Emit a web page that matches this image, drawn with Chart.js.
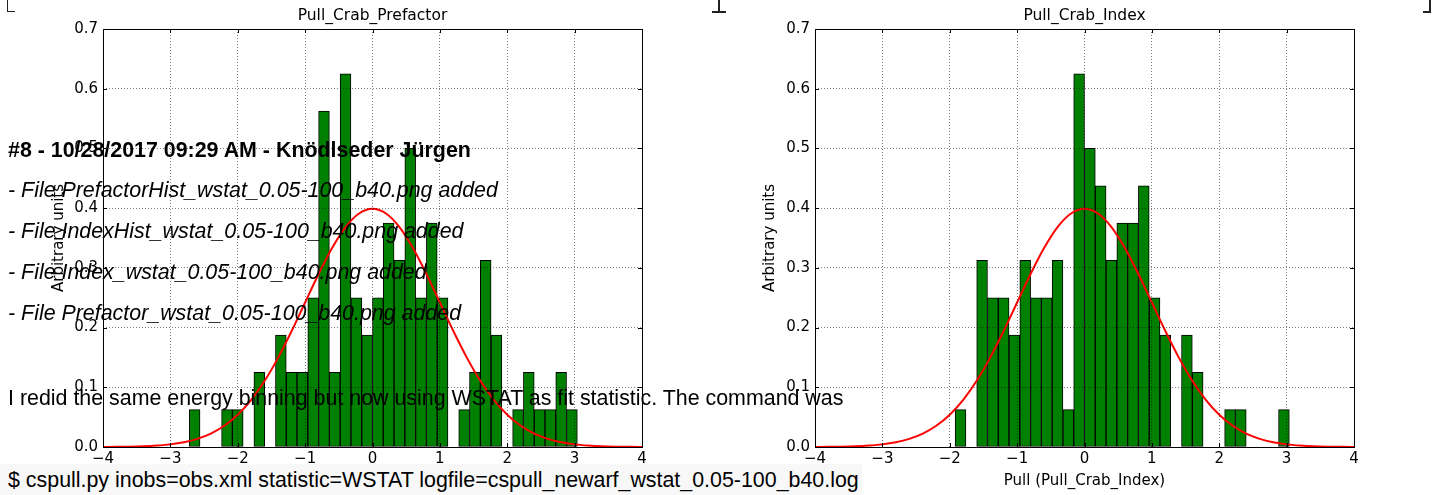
<!DOCTYPE html>
<html lang="en">
<head>
  <meta charset="UTF-8">
  <script src="https://cdn.jsdelivr.net/npm/chart.js"></script>
  <title>Pull histograms</title>
  <style>
    body { margin: 0; background: #fff; width: 1437px; height: 495px; overflow: hidden; position: relative; }
    canvas { position: absolute; top: 0; }
    .txt { position: absolute; left: 8px; white-space: nowrap; font-family: "Liberation Sans", Arial, sans-serif;
           font-size: 21.4px; line-height: 24px; color: #000; }
    .pre { position: absolute; left: 0; top: 464px; width: 862px; height: 31px; background: #f8f8f8; }
    .mark { position: absolute; border-color: #222; border-style: solid; border-width: 0; }
  </style>
</head>
<body>
  <canvas id="chartPrefactor" width="718" height="495" style="left:0"></canvas>
  <canvas id="chartIndex" width="719" height="495" style="left:718px"></canvas>

  <div class="mark" style="left:7px;top:0;width:7px;height:11px;border-left-width:1.5px;border-bottom-width:1.5px"></div>
  <div class="mark" style="left:718px;top:0;width:0;height:11px;border-left-width:2px"></div>
  <div class="mark" style="left:712px;top:11px;width:14px;height:0;border-top-width:2px"></div>
  <div class="mark" style="left:1423px;top:0;width:6px;height:11px;border-right-width:2px;border-bottom-width:2px"></div>

  <div class="txt" style="top:138px;font-weight:bold">#8 - 10/28/2017 09:29 AM - Knödlseder Jürgen</div>
  <div class="txt" style="top:178px;font-style:italic">- File PrefactorHist_wstat_0.05-100_b40.png added</div>
  <div class="txt" style="top:219px;font-style:italic">- File IndexHist_wstat_0.05-100_b40.png added</div>
  <div class="txt" style="top:260px;font-style:italic">- File Index_wstat_0.05-100_b40.png added</div>
  <div class="txt" style="top:301px;font-style:italic">- File Prefactor_wstat_0.05-100_b40.png added</div>
  <div class="txt" style="top:386px">I redid the same energy binning but now using WSTAT as fit statistic. The command was</div>
  <div class="pre"></div>
  <div class="txt" style="top:468px">$ cspull.py inobs=obs.xml statistic=WSTAT logfile=cspull_newarf_wstat_0.05-100_b40.log</div>

<script>
  // bin centres (width 0.16) and normalised heights
  var prefactorBins = [-2.64, -2.16, -2.00, -1.68, -1.36, -1.20, -1.04, -0.88, -0.72, -0.56, -0.40, -0.24, -0.08,
    0.08, 0.24, 0.40, 0.56, 0.72, 0.88, 1.04, 1.36, 1.52, 1.68, 1.84, 2.16, 2.32, 2.48, 2.64, 2.80, 2.96]
  var prefactorHeights = [0.0625, 0.0625, 0.0625, 0.125, 0.1875, 0.125, 0.125, 0.25, 0.5625, 0.125, 0.625, 0.25, 0.1875,
    0.25, 0.375, 0.3125, 0.5, 0.25, 0.375, 0.25, 0.0625, 0.125, 0.3125, 0.1875, 0.0625, 0.125, 0.0625, 0.0625, 0.125, 0.0625]

  var indexBins = [-1.84, -1.52, -1.36, -1.20, -1.04, -0.88, -0.72, -0.56, -0.40, -0.24, -0.08,
    0.08, 0.24, 0.40, 0.56, 0.72, 0.88, 1.04, 1.20, 1.52, 1.68, 2.16, 2.32, 2.96]
  var indexHeights = [0.0625, 0.3125, 0.25, 0.25, 0.1875, 0.3125, 0.25, 0.25, 0.3125, 0.0625, 0.625,
    0.5, 0.4375, 0.3125, 0.375, 0.375, 0.4375, 0.25, 0.1875, 0.1875, 0.125, 0.0625, 0.0625, 0.0625]

  // red reference curve, sampled every 0.2
  var curveX = [-4.0, -3.8, -3.6, -3.4, -3.2, -3.0, -2.8, -2.6, -2.4, -2.2, -2.0, -1.8, -1.6, -1.4, -1.2, -1.0,
    -0.8, -0.6, -0.4, -0.2, 0.0, 0.2, 0.4, 0.6, 0.8, 1.0, 1.2, 1.4, 1.6, 1.8, 2.0, 2.2, 2.4, 2.6, 2.8, 3.0,
    3.2, 3.4, 3.6, 3.8, 4.0]
  var curveY = [0.0001, 0.0003, 0.0006, 0.0012, 0.0024, 0.0044, 0.0079, 0.0136, 0.0224, 0.0355, 0.0540, 0.0790,
    0.1109, 0.1497, 0.1942, 0.2420, 0.2897, 0.3332, 0.3683, 0.3910, 0.3989, 0.3910, 0.3683, 0.3332, 0.2897,
    0.2420, 0.1942, 0.1497, 0.1109, 0.0790, 0.0540, 0.0355, 0.0224, 0.0136, 0.0079, 0.0044, 0.0024, 0.0012,
    0.0006, 0.0003, 0.0001]

  var xTickLabels = ["\u22124", "\u22123", "\u22122", "\u22121", "0", "1", "2", "3", "4"]
  var yTickLabels = ["0.0", "0.1", "0.2", "0.3", "0.4", "0.5", "0.6", "0.7"]

  var fontFam = "'DejaVu Sans', sans-serif"

  function toPoints(xs, ys) {
    var pts = []
    for (var i = 0; i < xs.length; i++) pts.push({ x: xs[i], y: ys[i] })
    return pts
  }

  // matplotlib style frame with inward ticks on all four sides
  var frameTicks = {
    id: "frameTicks",
    afterDraw(chart) {
      var ctx = chart.ctx, a = chart.chartArea
      var xs = chart.scales.x, ys = chart.scales.y
      ctx.save()
      ctx.strokeStyle = "#000"
      ctx.lineWidth = 1
      ctx.beginPath()
      xs.ticks.forEach(function (t) {
        var px = Math.round(xs.getPixelForValue(t.value)) + 0.5
        ctx.moveTo(px, a.bottom); ctx.lineTo(px, a.bottom - 4)
        ctx.moveTo(px, a.top); ctx.lineTo(px, a.top + 4)
      })
      ys.ticks.forEach(function (t) {
        var py = Math.round(ys.getPixelForValue(t.value)) + 0.5
        ctx.moveTo(a.left, py); ctx.lineTo(a.left + 4, py)
        ctx.moveTo(a.right, py); ctx.lineTo(a.right - 4, py)
      })
      ctx.stroke()
      ctx.strokeRect(Math.round(a.left) + 0.5, Math.round(a.top) + 0.5,
        Math.round(a.right - a.left), Math.round(a.bottom - a.top))
      ctx.restore()
    }
  }

  function makeChart(id, title, xLabel, bins, heights, yAxisWidth, rightPad, yTitlePad) {
    return new Chart(document.getElementById(id), {
      type: "bar",
      data: {
        datasets: [{
          type: "line",
          data: toPoints(curveX, curveY),
          borderColor: "#ff0000",
          borderWidth: 2,
          pointRadius: 0,
          cubicInterpolationMode: "monotone",
          fill: false
        }, {
          data: toPoints(bins, heights),
          backgroundColor: "#008000",
          borderColor: "#000",
          borderWidth: 1,
          borderSkipped: false,
          barPercentage: 1,
          categoryPercentage: 1
        }]
      },
      options: {
        responsive: false,
        animation: false,
        layout: { padding: { left: 0, right: rightPad, top: 0, bottom: 0 } },
        plugins: {
          legend: { display: false },
          tooltip: { enabled: false },
          title: {
            display: true, text: title, color: "#000", fullSize: false,
            font: { family: fontFam, size: 15.5, weight: "normal", lineHeight: 1.2 },
            padding: { top: 6.5, bottom: 3.9 }
          }
        },
        scales: {
          x: {
            type: "linear", min: -4, max: 4, offset: false,
            afterFit: function (s) { s.height = 48 },
            ticks: {
              stepSize: 1, color: "#000", padding: 3,
              font: { family: fontFam, size: 15 },
              callback: function (v, i) { return xTickLabels[i] }
            },
            grid: { color: "rgba(0,0,0,0.5)", drawTicks: false, offset: false, z: 1 },
            border: { display: false, dash: [1, 2] },
            title: {
              display: true, text: xLabel, color: "#000",
              font: { family: fontFam, size: 15, lineHeight: 1.2 },
              padding: { top: 0, bottom: 5 }
            }
          },
          y: {
            min: 0, max: 0.7,
            afterFit: function (s) { s.width = yAxisWidth },
            ticks: {
              stepSize: 0.1, color: "#000", padding: 5,
              font: { family: fontFam, size: 15 },
              callback: function (v, i) { return yTickLabels[i] }
            },
            grid: { color: "rgba(0,0,0,0.5)", drawTicks: false, z: 1 },
            border: { display: false, dash: [1, 2] },
            title: {
              display: true, text: "Arbitrary units", color: "#000",
              font: { family: fontFam, size: 15, lineHeight: 1.2 },
              padding: { top: yTitlePad, bottom: 0 }
            }
          }
        }
      },
      plugins: [frameTicks]
    })
  }

  var prefactorChart = makeChart("chartPrefactor", "Pull_Crab_Prefactor", "Pull (Pull_Crab_Prefactor)",
    prefactorBins, prefactorHeights, 103, 76, 50)
  var indexChart = makeChart("chartIndex", "Pull_Crab_Index", "Pull (Pull_Crab_Index)",
    indexBins, indexHeights, 97, 83, 43)
</script>
</body>
</html>
